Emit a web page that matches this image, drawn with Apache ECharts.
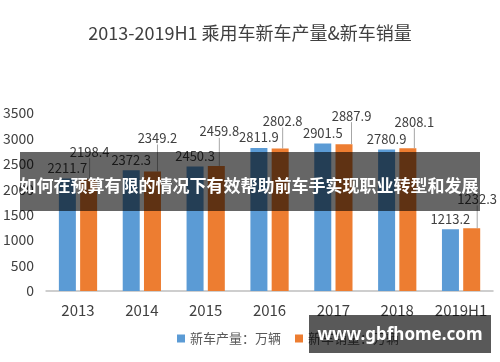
<!DOCTYPE html>
<html><head><meta charset="utf-8">
<script src="https://cdn.jsdelivr.net/npm/echarts@6/dist/echarts.min.js"></script>
<style>html,body{margin:0;padding:0;background:#fff}#c{width:500px;height:362px}</style>
</head><body><div id="c"></div>
<script>
const categories = ['2013','2014','2015','2016','2017','2018','2019H1'];
const production = [2211.7, 2372.3, 2450.3, 2811.9, 2901.5, 2780.9, 1213.2];
const sales = [2198.4, 2349.2, 2459.8, 2802.8, 2887.9, 2808.1, 1232.3];
const yTicks = [0, 500, 1000, 1500, 2000, 2500, 3000, 3500];
const seriesNames = ['新车产量：万辆', '新车销量：万辆'];
const titleText = '2013-2019H1 乘用车新车产量&新车销量';
const bannerText = '如何在预算有限的情况下有效帮助前车手实现职业转型和发展';
const watermarkText = 'www.gbfhome.com';
// label offsets for the moved sales labels (style, not data)
const salesLabelDx = [1, 5, 3, 2.5, 7.5, 6.5, 5.5];
const salesLabelDy = [-17, -23, -24, -17, -18, -16, -19];

const FONT = '"Noto Sans CJK SC", "Noto Sans", sans-serif';
const chart = echarts.init(document.getElementById('c'), null, {renderer: 'canvas'});
chart.setOption({
  animation: false,
  backgroundColor: '#fff',
  textStyle: {fontFamily: FONT},
  title: {text: titleText, left: 'center', top: 19,
    textStyle: {fontSize: 18, fontWeight: 'normal', color: '#404040', fontFamily: FONT}},
  legend: {left: 172, top: 327, itemWidth: 8, itemHeight: 8, itemGap: 14, icon: 'rect',
    textStyle: {fontSize: 13, color: '#595959', fontFamily: FONT}, data: seriesNames},
  grid: {left: 45, right: 7, top: 113, bottom: 71},
  xAxis: {type: 'category', data: categories,
    axisLine: {lineStyle: {color: '#BFBFBF', width: 1.5}}, axisTick: {show: false},
    axisLabel: {interval: 0, fontSize: 15, color: '#404040', margin: 12, fontFamily: FONT}},
  yAxis: {type: 'value', min: yTicks[0], max: yTicks[yTicks.length - 1], interval: 500,
    axisLine: {show: false}, axisTick: {show: false}, splitLine: {show: false},
    axisLabel: {fontSize: 14, color: '#404040', margin: 12, fontFamily: FONT,
      formatter: function (v) { return String(v); }}},
  series: [
    {name: seriesNames[0], type: 'bar', data: production, barWidth: 17, barGap: '25%',
      itemStyle: {color: '#5B9BD5'},
      label: {show: true, position: 'top', distance: 4, fontSize: 13, color: '#404040', fontFamily: FONT}},
    {name: seriesNames[1], type: 'bar', data: sales, barWidth: 17,
      itemStyle: {color: '#ED7D31'},
      label: {show: true, position: 'top', distance: 4, fontSize: 13, color: '#404040', fontFamily: FONT},
      labelLine: {show: true, lineStyle: {color: '#A6A6A6', width: 1}},
      labelLayout: function (p) { return {dx: salesLabelDx[p.dataIndex], dy: salesLabelDy[p.dataIndex]}; }}
  ],
  graphic: [
    {type: 'rect', z: 100, shape: {x: 20, y: 152, width: 460, height: 59},
      style: {fill: 'rgba(0,0,0,0.6)'}},
    {type: 'text', z: 101, x: 249, y: 186,
      style: {text: bannerText, fill: '#fff', fontSize: 17, fontWeight: 'bold',
        fontFamily: '"Noto Sans CJK SC"', align: 'center', verticalAlign: 'middle'}},
    {type: 'rect', z: 100, shape: {x: 309, y: 315, width: 182, height: 38},
      style: {fill: 'rgba(0,0,0,0.65)'}},
    {type: 'text', z: 101, x: 400, y: 335,
      style: {text: watermarkText, fill: '#fff', fontSize: 17, fontWeight: 'bold',
        fontFamily: '"Noto Sans", sans-serif', align: 'center', verticalAlign: 'middle'}}
  ]
});
</script></body></html>
